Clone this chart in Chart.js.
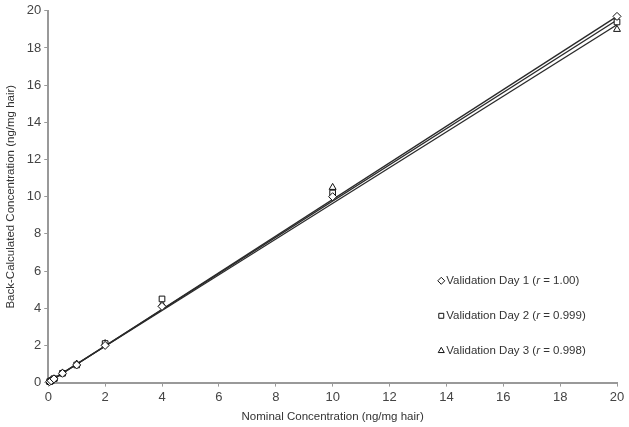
<!DOCTYPE html>
<html>
<head>
<meta charset="utf-8">
<script src="https://cdn.jsdelivr.net/npm/chart.js@4/dist/chart.umd.min.js"></script>
<style>
  html, body { margin: 0; padding: 0; background: #fff; }
  #wrap { width: 629px; height: 427px; position: relative; }
</style>
</head>
<body>
<div id="wrap"><canvas id="chart"></canvas></div>
<script>
const nominal = [0.05, 0.1, 0.2, 0.5, 1, 2, 4, 10, 20];
const day1 = [0.05, 0.1, 0.2, 0.5, 0.95, 2.0, 4.1, 10.0, 19.7];
const day2 = [0.05, 0.1, 0.21, 0.5, 0.95, 2.1, 4.5, 10.2, 19.4];
const day3 = [0.05, 0.11, 0.2, 0.52, 1.0, 2.1, 4.2, 10.5, 19.0];
const fitX = [0, 20];
const fit1 = [0, 19.7];
const fit2 = [0.02, 19.5];
const fit3 = [0.03, 19.25];
const labels = ['Validation Day 1', 'Validation Day 2', 'Validation Day 3'];
const rValues = ['1.00', '0.999', '0.998'];
const markers = ['rectRot', 'rect', 'triangle'];

const FONT = '"Liberation Sans", Arial, sans-serif';

function pts(xs, ys) {
  return xs.map((x, i) => ({ x: x, y: ys[i] }));
}

function scatterSet(i, ys) {
  return {
    type: 'scatter',
    label: labels[i],
    data: pts(nominal, ys),
    pointStyle: markers[i],
    pointRadius: 4,
    borderColor: '#111',
    backgroundColor: '#fff',
    pointBorderWidth: 1,
    clip: false,
    order: 1
  };
}

function fitSet(ys) {
  return {
    type: 'line',
    data: pts(fitX, ys),
    borderColor: '#2a2a2a',
    borderWidth: 1.3,
    pointRadius: 0,
    fill: false,
    order: 2
  };
}

// legend drawn inside the plot area, with italic r
const legendPlugin = {
  id: 'innerLegend',
  afterDraw(chart) {
    const ctx = chart.ctx;
    const area = chart.chartArea;
    const x0 = area.left + 393;
    const y0 = area.top + 270;
    ctx.save();
    ctx.textBaseline = 'middle';
    labels.forEach((lab, i) => {
      const y = y0 + i * 35;
      ctx.fillStyle = '#fff';
      ctx.strokeStyle = '#111';
      ctx.lineWidth = 1;
      Chart.helpers.drawPoint(ctx, { pointStyle: markers[i], radius: 3.5, borderWidth: 1 }, x0, y);
      ctx.fillStyle = '#333';
      let x = x0 + 5;
      ctx.font = '11.5px ' + FONT;
      const a = lab + ' (';
      ctx.fillText(a, x, y);
      x += ctx.measureText(a).width;
      ctx.font = 'italic 11.5px ' + FONT;
      ctx.fillText('r', x, y);
      x += ctx.measureText('r').width;
      ctx.font = '11.5px ' + FONT;
      ctx.fillText(' = ' + rValues[i] + ')', x, y);
    });
    ctx.restore();
  }
};

const axisCommon = {
  type: 'linear',
  min: 0,
  max: 20,
  ticks: { stepSize: 2, color: '#444', font: { size: 13, family: FONT }, padding: 3 },
  grid: { drawOnChartArea: false, drawTicks: true, tickLength: 4, color: '#999' },
  border: { color: '#999', width: 2 }
};

new Chart(document.getElementById('chart'), {
  data: {
    datasets: [
      scatterSet(0, day1),
      scatterSet(1, day2),
      scatterSet(2, day3),
      fitSet(fit1),
      fitSet(fit2),
      fitSet(fit3)
    ]
  },
  options: {
    responsive: true,
    maintainAspectRatio: false,
    animation: false,
    layout: { padding: { top: 9, right: 12, bottom: 3, left: 4 } },
    plugins: {
      legend: { display: false },
      tooltip: { enabled: false }
    },
    scales: {
      x: Object.assign({}, axisCommon, {
        title: { display: true, text: 'Nominal Concentration (ng/mg hair)', color: '#333', font: { size: 11.5, family: FONT }, padding: { top: 2, bottom: 0 } }
      }),
      y: Object.assign({}, axisCommon, {
        title: { display: true, text: 'Back-Calculated Concentration (ng/mg hair)', color: '#333', font: { size: 11.5, family: FONT }, padding: { top: 0, bottom: 6 } }
      })
    }
  },
  plugins: [legendPlugin]
});
</script>
</body>
</html>
